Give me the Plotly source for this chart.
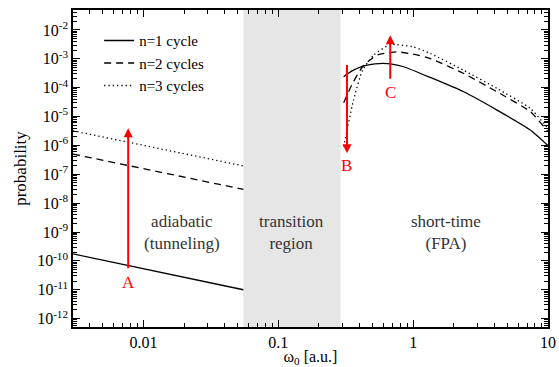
import numpy as np
import plotly.graph_objects as go

# ---------------- data ----------------
omega_adiabatic = [0.003, 0.055]
p1_adiabatic = [1.74e-10, 1.0e-11]
p2_adiabatic = [5.0e-7, 3.0e-8]
p3_adiabatic = [3.2e-6, 1.95e-7]

omega_fpa_1 = [0.305, 0.352, 0.43, 0.52, 0.60, 0.68, 0.85, 1.34, 2.37, 4.19, 7.4, 10.0]
p1_fpa = [2.4e-4, 3.8e-4, 5.7e-4, 6.7e-4, 6.9e-4, 6.7e-4, 5.3e-4, 2.26e-4, 7.2e-5, 1.67e-5, 3.4e-6, 9.8e-7]

omega_fpa_2 = [0.305, 0.353, 0.421, 0.536, 0.757, 1.0, 1.34, 2.37, 4.19, 7.4, 10.0]
p2_fpa = [3.0e-5, 1.33e-4, 5.3e-4, 1.33e-3, 1.74e-3, 1.45e-3, 1.02e-3, 3.1e-4, 7.2e-5, 1.47e-5, 3.0e-6]

omega_fpa_3 = [0.305, 0.361, 0.421, 0.508, 0.676, 1.0, 1.34, 2.37, 4.19, 7.4, 10.0]
p3_fpa = [9.0e-7, 3.7e-5, 4.0e-4, 1.33e-3, 3.1e-3, 2.6e-3, 1.53e-3, 4.0e-4, 9.4e-5, 1.9e-5, 3.9e-6]

series_names = ["n=1 cycle", "n=2 cycles", "n=3 cycles"]

transition_region = [0.055, 0.29]

# arrows: (label, omega, tail probability, head probability)
arrow_labels = ["A", "B", "C"]
arrow_omega = [0.0077, 0.323, 0.676]
arrow_tail = [4.9e-11, 6.9e-4, 1.82e-4]
arrow_head = [3.9e-6, 5.4e-7, 6.6e-3]

region_texts = ["adiabatic<br>(tunneling)", "transition<br>region", "short-time<br>(FPA)"]
region_omega = [0.0194, 0.126, 1.76]
region_prob = 1.0e-9

x_tick_vals = [0.01, 0.1, 1, 10]
x_tick_text = ["0.01", "0.1", "1", "10"]
y_exponents = list(range(-12, -1))

# ---------------- figure ----------------
FONT = "Liberation Serif, Times New Roman, serif"
fig = go.Figure()

fig.add_vrect(x0=transition_region[0], x1=transition_region[1],
              fillcolor="#e6e6e6", line_width=0, layer="below")

styles = [dict(color="black", width=1.3, dash="solid"),
          dict(color="black", width=1.3, dash="7px,5px"),
          dict(color="black", width=1.3, dash="1.3px,3px")]

left = [p1_adiabatic, p2_adiabatic, p3_adiabatic]
right_x = [omega_fpa_1, omega_fpa_2, omega_fpa_3]
right_y = [p1_fpa, p2_fpa, p3_fpa]

for i in range(3):
    fig.add_trace(go.Scatter(x=omega_adiabatic, y=left[i], mode="lines",
                             line=styles[i], name=series_names[i], showlegend=True))
for i in range(3):
    fig.add_trace(go.Scatter(x=right_x[i], y=right_y[i], mode="lines",
                             line=dict(styles[i], shape="spline", smoothing=0.5),
                             name=series_names[i], showlegend=False))

annotations = []
for lab, om, tail, head in zip(arrow_labels, arrow_omega, arrow_tail, arrow_head):
    annotations.append(dict(x=np.log10(om), y=np.log10(head), ax=np.log10(om), ay=np.log10(tail),
                            xref="x", yref="y", axref="x", ayref="y", text="",
                            showarrow=True, arrowhead=2, arrowsize=0.9, arrowwidth=2,
                            arrowcolor="#ff0000"))
letter_pos = {"A": "tail", "B": "head", "C": "tail"}
for lab, om, tail, head in zip(arrow_labels, arrow_omega, arrow_tail, arrow_head):
    yv = tail if letter_pos[lab] == "tail" else head
    annotations.append(dict(x=np.log10(om), y=np.log10(yv), xref="x", yref="y",
                            text=lab, showarrow=False, yanchor="top", yshift=-1,
                            font=dict(family=FONT, size=17, color="#ff0000")))

for txt, om in zip(region_texts, region_omega):
    annotations.append(dict(x=np.log10(om), y=np.log10(region_prob), xref="x", yref="y",
                            text=txt, showarrow=False, xanchor="center", yanchor="middle",
                            font=dict(family=FONT, size=17, color="#333333")))

fig.update_layout(
    template="none",
    width=559, height=367,
    margin=dict(l=73, r=11, t=10, b=40, autoexpand=False),
    plot_bgcolor="white", paper_bgcolor="white",
    font=dict(family=FONT, size=16, color="black"),
    showlegend=True,
    legend=dict(x=0.055, y=0.955, xanchor="left", yanchor="top",
                bgcolor="rgba(0,0,0,0)", font=dict(family=FONT, size=15),
                borderwidth=0),
    annotations=annotations,
)

fig.update_xaxes(type="log", range=[np.log10(0.003), 1.0], automargin=False,
                 tickvals=x_tick_vals, ticktext=x_tick_text,
                 ticks="inside", ticklen=7, tickwidth=1, tickcolor="black",
                 minor=dict(ticks="inside", ticklen=4, dtick="D1", tickcolor="black", showgrid=False),
                 showline=True, linecolor="black", linewidth=1.5, mirror="allticks",
                 showgrid=False, zeroline=False,
                 title=dict(text="ω<sub>0</sub> [a.u.]", standoff=0, font=dict(size=16)),
                 tickfont=dict(size=16))

fig.update_yaxes(type="log", range=[-12.29, -1.31], automargin=False,
                 tickvals=[10.0 ** e for e in y_exponents],
                 ticktext=["10<sup>%d</sup>" % e for e in y_exponents],
                 ticks="inside", ticklen=7, tickwidth=1, tickcolor="black",
                 minor=dict(ticks="inside", ticklen=4, dtick="D1", tickcolor="black", showgrid=False),
                 showline=True, linecolor="black", linewidth=1.5, mirror="allticks",
                 showgrid=False, zeroline=False,
                 title=dict(text="probability", standoff=6, font=dict(size=17)),
                 tickfont=dict(size=16))

fig.write_html("out.html")
